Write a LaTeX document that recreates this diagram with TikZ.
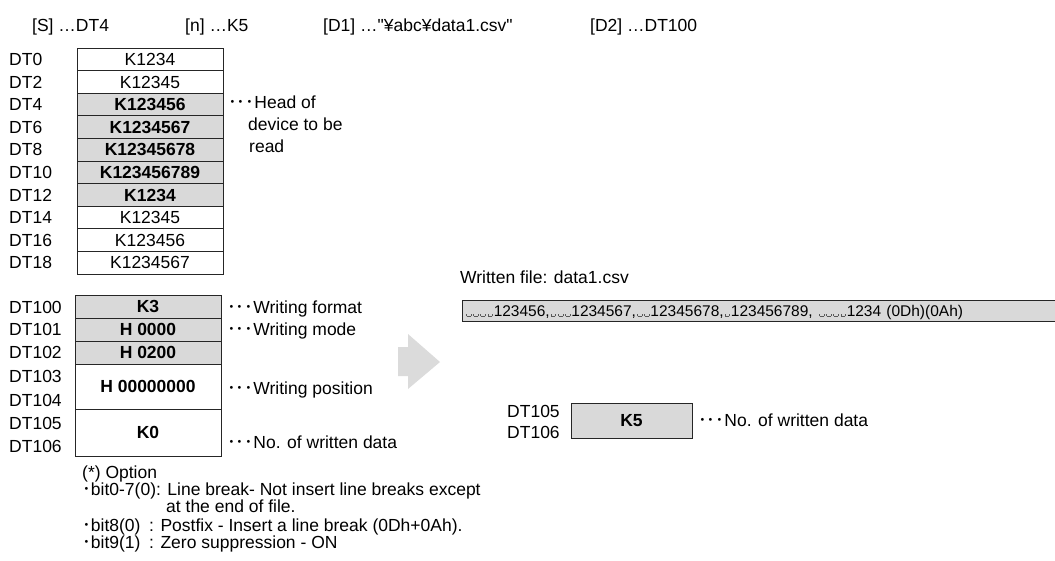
\documentclass[tikz,border=0pt]{standalone}
\usepackage{fontspec}
\setmainfont{Liberation Sans}
\newfontfamily\cjk{Noto Sans CJK JP}
\newcommand\fs{\fontsize{17.5}{21}\selectfont}
\newcommand\fsb{\fontsize{15.5}{18}\selectfont}
\newcommand\ddd{{\cjk ･･･}}
\newcommand\bul{{\cjk ･}}
\newcommand\dq{\XeTeXglyph\the\XeTeXcharglyph"22\relax}
\newcommand\spc{\kern1pt{\color{black!65}\rule{0.6pt}{2.6pt}\rule{4pt}{0.6pt}\rule{0.6pt}{2.6pt}}\kern1pt}
\tikzset{
  txt/.style={inner sep=0pt, text height=12.5pt, text depth=0pt, font=\fs, anchor=west},
  cellw/.style={draw=black!85, line width=0.9pt, fill=white, minimum width=146pt, inner sep=0pt,
     text height=12.5pt, text depth=0pt, font=\fs},
  cellg/.style={cellw, fill=black!15, font=\fs\bfseries},
}
\begin{document}
\begin{tikzpicture}[x=1pt,y=-1pt]
\useasboundingbox (0,0) rectangle (1055,560);
% top line
\node[txt] (s) at (32,25) {[S] …DT4};
\node[txt] (n) at (185,25) {[n] …K5};
\node[txt] (d1) at (323,25) {[D1] …\dq¥abc¥data1.csv\dq};
\node[txt] (d2) at (590,25) {[D2] …DT100};
% table 1
\foreach \i/\t in {0/DT0,1/DT2,2/DT4,3/DT6,4/DT8,5/DT10,6/DT12,7/DT14,8/DT16,9/DT18}
  \node[txt] (la\i) at (9,{48+22.6*(\i+0.5)}) {\t};
\foreach \i/\t/\s in {0/K1234/cellw,1/K12345/cellw,2/K123456/cellg,3/K1234567/cellg,4/K12345678/cellg,
   5/K123456789/cellg,6/K1234/cellg,7/K12345/cellw,8/K123456/cellw,9/K1234567/cellw}
  \node[\s, minimum height=22.6pt] (ra\i) at (150,{48+22.6*(\i+0.5)}) {\t};
\node[txt] (h1) at (228,102) {\ddd Head of};
\node[txt] (h2) at (248,124) {device to be};
\node[txt] (h3) at (249,146) {read};
% table 2
\foreach \i/\y/\t in {0/307/DT100,1/329/DT101,2/352/DT102,3/376/DT103,4/400/DT104,5/423/DT105,6/446/DT106}
  \node[txt] (lb\i) at (9,\y) {\t};
\node[cellg, minimum height=23pt] (rb0) at (148,306.5) {K3};
\node[cellg, minimum height=23pt] (rb1) at (148,329.5) {H 0000};
\node[cellg, minimum height=23pt] (rb2) at (148,352.5) {H 0200};
\node[cellw, minimum height=45pt, font=\fs\bfseries] (rb3) at (148,386.5) {H 00000000};
\node[cellw, minimum height=47pt, font=\fs\bfseries] (rb4) at (148,432.5) {K0};
\node[txt] (a0) at (227,307) {\ddd Writing format};
\node[txt] (a1) at (227,329) {\ddd Writing mode};
\node[txt] (a3) at (227,388) {\ddd Writing position};
\node[txt] (a4) at (227,442) {\ddd No. of written data};
% options
\node[txt] (o0) at (82,472) {(*) Option};
\node[txt] (o1) at (82,489) {\bul bit0-7(0): Line break- Not insert line breaks except};
\node[txt] (o2) at (166,506) {at the end of file.};
\node[txt] (o3) at (82,525) {\bul bit8(0)};
\node[txt] (o3b) at (149,525) {: Postfix - Insert a line break (0Dh+0Ah).};
\node[txt] (o4) at (82,542) {\bul bit9(1)};
\node[txt] (o4b) at (149,542) {: Zero suppression - ON};
% arrow
\fill[black!14] (398,347) -- (408,347) -- (408,334) -- (440,362) -- (408,389) -- (408,376) -- (398,376) -- cycle;
% written file
\node[txt] (wt) at (460,277) {Written file: data1.csv};
\node[draw=black!85, line width=0.9pt, fill=black!15, anchor=north west, minimum width=610pt,
  minimum height=21pt, inner sep=0pt, text width=607pt, align=left, font=\fsb,
  text height=11pt, text depth=0pt] (wf) at (462,300)
  {\hspace*{1pt}\spc\spc\spc\spc 123456,\spc\spc\spc 1234567,\spc\spc 12345678,\spc 123456789, \spc\spc\spc\spc 1234 (0Dh)(0Ah)};
% result
\node[txt] (m5) at (507,411) {DT105};
\node[txt] (m6) at (507,432) {DT106};
\node[cellg, minimum width=121pt, minimum height=35pt] (k5) at (631.5,420.5) {K5};
\node[txt] (an) at (698,420) {\ddd No. of written data};
\end{tikzpicture}
\end{document}
